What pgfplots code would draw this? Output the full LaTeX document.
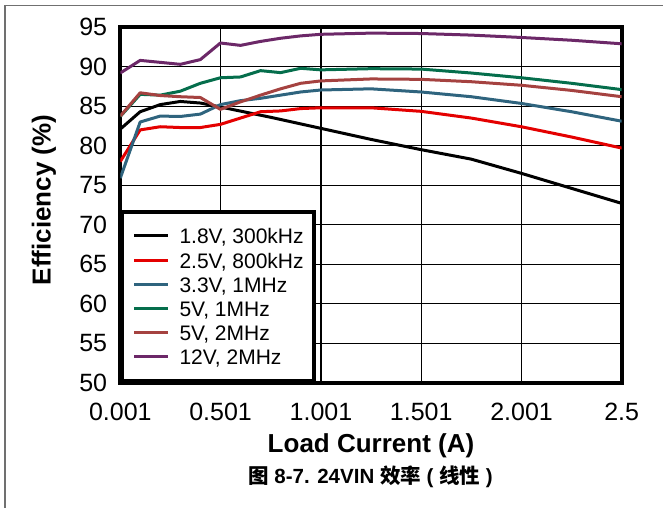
\documentclass[border=0pt]{standalone}
\usepackage{fontspec}
\setmainfont{Liberation Sans}
\newfontfamily\cjk{Noto Sans CJK SC Bold}
\usepackage{pgfplots}
\pgfplotsset{compat=1.18}

\definecolor{cBlack}{RGB}{0,0,0}
\definecolor{cRed}{RGB}{228,0,0}
\definecolor{cBlue}{RGB}{47,100,126}
\definecolor{cGreen}{RGB}{5,110,76}
\definecolor{cBrown}{RGB}{165,66,64}
\definecolor{cPurple}{RGB}{108,40,104}
\definecolor{framegray}{RGB}{112,112,112}

\begin{document}
\begin{tikzpicture}[x=1bp,y=1bp]
\useasboundingbox (0,0) rectangle (663,-508);
\draw[framegray, line width=1.6bp] (5,-508) -- (5,-5.7) -- (663,-5.7);
\begin{axis}[
  at={(120.3bp,-382.7bp)}, anchor=south west,
  scale only axis, width=501.4bp, height=355.5bp,
  xmin=0.001, xmax=2.5, ymin=50, ymax=95,
  xtick={0.001,0.501,1.001,1.501,2.001,2.5},
  xticklabels={0.001,0.501,1.001,1.501,2.001,2.5},
  ytick={50,55,60,65,70,75,80,85,90,95},
  yticklabels={50,55,60,65,70,75,80,85,90,95},
  major tick length=0pt,
  /pgf/number format/assume math mode=true,
  grid=major, grid style={black, line width=1.3bp},
  axis line style={line width=4bp},
  tick label style={font=\fontsize{25bp}{30bp}\selectfont},
  yticklabel style={anchor=east, inner sep=0pt, xshift=-13bp},
  xticklabel style={anchor=north, inner sep=0pt, yshift=-20.3bp},
  xlabel={Load Current (A)},
  xlabel style={font=\fontsize{26bp}{31bp}\selectfont\bfseries,
    at={(axis description cs:0.5,-0.1968)}, anchor=base, inner sep=0pt},
  ylabel={Efficiency (\%)},
  ylabel style={font=\fontsize{26bp}{31bp}\selectfont\bfseries,
    at={(axis description cs:-0.1388,0.514)}, anchor=base, inner sep=0pt},
  legend cell align=left,
  legend style={at={(axis description cs:0,0)}, anchor=south west,
    draw=black, line width=4bp, fill=white,
    inner xsep=10.5bp, inner ysep=11.7bp,
    font=\fontsize{21bp}{24.2bp}\selectfont, row sep=0pt,
    nodes={inner sep=0pt, text height=20bp, text depth=4.2bp},
    /tikz/every odd column/.style={column sep=9.7bp}},
  legend image code/.code={\draw[#1, line width=3bp] (0bp,0bp) -- (34bp,0bp);},
  every axis plot/.append style={line width=3bp, line join=round},
]
\addplot[cBlack] coordinates {
  (0.001,82.1) (0.1,84.3) (0.2,85.2) (0.3,85.6) (0.4,85.4) (0.5,84.9)
  (0.75,83.6) (1.0,82.2) (1.25,80.8) (1.5,79.5) (1.75,78.3) (2.0,76.5)
  (2.25,74.6) (2.5,72.7)};
\addlegendentry{1.8V, 300kHz}
\addplot[cRed] coordinates {
  (0.001,78.0) (0.1,82.0) (0.2,82.4) (0.3,82.3) (0.4,82.3) (0.5,82.7)
  (0.6,83.5) (0.7,84.3) (0.8,84.4) (0.9,84.7) (1.0,84.8) (1.25,84.8)
  (1.5,84.35) (1.75,83.5) (2.0,82.4) (2.25,81.1) (2.5,79.7)};
\addlegendentry{2.5V, 800kHz}
\addplot[cBlue] coordinates {
  (0.001,75.9) (0.1,83.0) (0.2,83.75) (0.3,83.7) (0.4,84.0) (0.5,85.2)
  (0.6,85.7) (0.7,86.0) (0.8,86.4) (0.9,86.8) (1.0,87.05) (1.25,87.2)
  (1.5,86.8) (1.75,86.2) (2.0,85.35) (2.25,84.3) (2.5,83.1)};
\addlegendentry{3.3V, 1MHz}
\addplot[cGreen] coordinates {
  (0.001,83.7) (0.1,86.5) (0.2,86.4) (0.3,86.9) (0.4,87.9) (0.5,88.6)
  (0.6,88.7) (0.7,89.5) (0.8,89.25) (0.9,89.8) (1.0,89.6) (1.25,89.75)
  (1.5,89.7) (1.75,89.2) (2.0,88.6) (2.25,87.9) (2.5,87.1)};
\addlegendentry{5V, 1MHz}
\addplot[cBrown] coordinates {
  (0.001,83.75) (0.1,86.7) (0.2,86.35) (0.3,86.2) (0.4,86.1) (0.5,84.6)
  (0.6,85.55) (0.7,86.4) (0.8,87.2) (0.9,87.9) (1.0,88.2) (1.25,88.45)
  (1.5,88.4) (1.75,88.1) (2.0,87.65) (2.25,87.0) (2.5,86.2)};
\addlegendentry{5V, 2MHz}
\addplot[cPurple] coordinates {
  (0.001,89.2) (0.1,90.8) (0.2,90.55) (0.3,90.3) (0.4,90.9) (0.5,93.0)
  (0.6,92.7) (0.7,93.2) (0.8,93.6) (0.9,93.9) (1.0,94.1) (1.25,94.25)
  (1.5,94.2) (1.75,94.0) (2.0,93.7) (2.25,93.35) (2.5,92.9)};
\addlegendentry{12V, 2MHz}
\end{axis}
\node[anchor=base, inner sep=0pt, font=\fontsize{20.5bp}{25bp}\selectfont\bfseries]
  at (370.5,-483.5) {{\cjk 图} 8-7. 24VIN {\cjk 效率} ( {\cjk 线性} )};
\end{tikzpicture}
\end{document}
